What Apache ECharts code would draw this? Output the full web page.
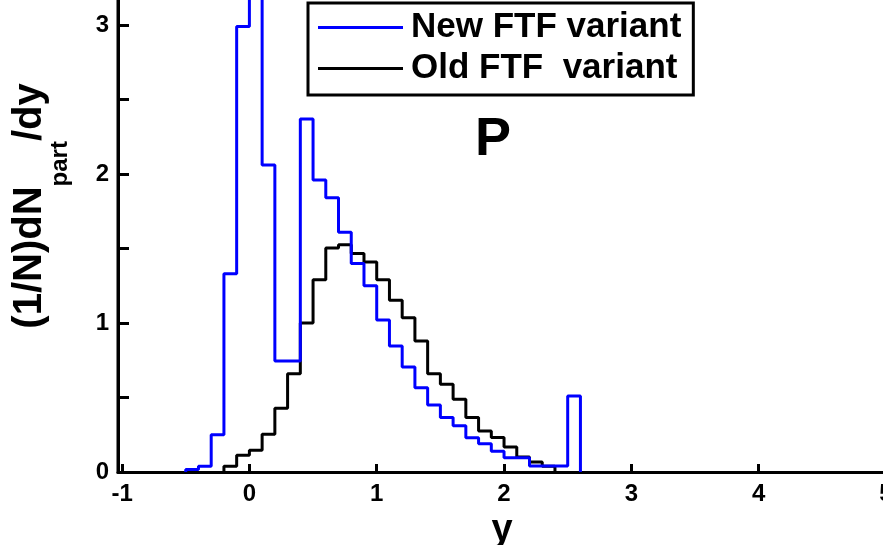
<!DOCTYPE html>
<html><head><meta charset="utf-8">
<script src="https://cdn.jsdelivr.net/npm/echarts@6/dist/echarts.min.js"></script>
<style>html,body{margin:0;padding:0;background:#fff}#c{width:883px;height:545px}</style>
</head><body><div id="c"></div>
<script>
// New FTF variant: bin edges (0.1 wide) and bin heights
const newEdges = [-0.5,-0.4,-0.3,-0.2,-0.1,0.0,0.1,0.2,0.3,0.4,0.5,0.6,0.7,0.8,0.9,1.0,1.1,1.2,1.3,1.4,1.5,1.6,1.7,1.8,1.9,2.0,2.1,2.2,2.3,2.4,2.5,2.6];
const newValues = [0.016,0.038,0.25,1.33,2.99,3.6,2.06,0.745,0.745,2.37,1.96,1.84,1.61,1.40,1.25,1.02,0.845,0.705,0.565,0.45,0.365,0.31,0.23,0.19,0.14,0.095,0.095,0.04,0.04,0.04,0.51];
// Old FTF variant
const oldEdges = [-0.2,-0.1,0.0,0.1,0.2,0.3,0.4,0.5,0.6,0.7,0.8,0.9,1.0,1.1,1.2,1.3,1.4,1.5,1.6,1.7,1.8,1.9,2.0,2.1,2.2,2.3,2.4];
const oldValues = [0.038,0.112,0.146,0.253,0.428,0.66,1.0,1.29,1.503,1.526,1.466,1.41,1.29,1.152,1.036,0.879,0.66,0.589,0.488,0.365,0.275,0.231,0.168,0.10,0.067,0.038];
const seriesNames = ['New FTF variant', 'Old FTF  variant'];
const xTickValues = [-1,0,1,2,3,4,5];
const yLabelValues = [0,1,2,3];
const yTickValues = [0,0.5,1,1.5,2,2.5,3];

const X_MIN = -1.032, X_MAX = 5, Y_MIN = 0, Y_MAX = 3.168;

function stepData(edges, values) {
  const pts = [[edges[0], 0]];
  for (let i = 0; i < values.length; i++) pts.push([edges[i], values[i]]);
  pts.push([edges[edges.length - 1], 0]);
  return pts;
}

const FONT = "'Liberation Sans', Arial, sans-serif";
const chart = echarts.init(document.getElementById('c'), null, {renderer: 'canvas'});
chart.setOption({
  animation: false,
  backgroundColor: '#fff',
  grid: {left: 118, right: -3, top: 0, bottom: 73, containLabel: false, outerBoundsMode: 'none'},
  legend: {
    orient: 'vertical', left: 308, top: 3,
    data: [{name: seriesNames[0], icon: 'rect'}, {name: seriesNames[1], icon: 'rect'}],
    itemWidth: 85, itemHeight: 3, itemGap: 6,
    padding: [7, 12, 9, 10],
    borderColor: '#000', borderWidth: 3, backgroundColor: '#fff',
    selectedMode: false,
    textStyle: {fontFamily: FONT, fontWeight: 'bold', fontSize: 35, color: '#000', lineHeight: 34, padding: [0, 0, 0, 3]}
  },
  xAxis: {
    type: 'value', min: X_MIN, max: X_MAX, position: 'bottom',
    axisLine: {onZero: false, lineStyle: {color: '#000', width: 3}},
    axisTick: {inside: true, length: 8, lineStyle: {color: '#000', width: 3}, customValues: xTickValues},
    axisLabel: {customValues: xTickValues, margin: 10, color: '#000', fontFamily: FONT, fontWeight: 'bold', fontSize: 24},
    splitLine: {show: false},
    name: 'y', nameLocation: 'middle', nameGap: 40,
    nameTextStyle: {fontFamily: FONT, fontWeight: 'bold', fontSize: 38, color: '#000'}
  },
  yAxis: {
    type: 'value', min: Y_MIN, max: Y_MAX, position: 'left',
    splitLine: {show: false},
    axisLine: {show: true, onZero: false, lineStyle: {color: '#000', width: 3}},
    axisTick: {show: true, inside: true, length: 11, lineStyle: {color: '#000', width: 3}, customValues: yTickValues},
    axisLabel: {customValues: yLabelValues, margin: 9, color: '#000', fontFamily: FONT, fontWeight: 'bold', fontSize: 24},
    name: '{m|(1/N)dN}{s|part}{m|/dy}',
    nameLocation: 'middle', nameRotate: 90, nameGap: 46,
    nameTextStyle: {
      color: '#000', padding: [0, 0, 0, 60],
      rich: {
        m: {fontFamily: FONT, fontWeight: 'bold', fontSize: 40, lineHeight: 40, verticalAlign: 'top', color: '#000'},
        s: {fontFamily: FONT, fontWeight: 'bold', fontSize: 24, lineHeight: 62, verticalAlign: 'bottom', color: '#000'}
      }
    }
  },
  series: [
    {name: seriesNames[0], type: 'line', step: 'end', showSymbol: false, symbol: 'none', clip: true,
     color: '#0000ff', lineStyle: {color: '#0000ff', width: 3}, data: stepData(newEdges, newValues), z: 3},
    {name: seriesNames[1], type: 'line', step: 'end', showSymbol: false, symbol: 'none', clip: false,
     color: '#000', lineStyle: {color: '#000', width: 3}, data: stepData(oldEdges, oldValues), z: 2,
     markLine: {
       silent: true, symbol: 'none', label: {show: false},
       lineStyle: {color: '#000', width: 3, type: 'solid'},
       data: [{xAxis: X_MIN}]
     }}
  ]
});

// Vertical axis line placed through the library's own coordinate conversion
const pBottom = chart.convertToPixel({gridIndex: 0}, [X_MIN, Y_MIN]);
const pTop = chart.convertToPixel({gridIndex: 0}, [X_MIN, Y_MAX]);
chart.setOption({
  graphic: [
    {type: 'line', z: 100, shape: {x1: pBottom[0], y1: pBottom[1] + 1.5, x2: pTop[0], y2: pTop[1]},
     style: {stroke: '#000', lineWidth: 3}},
    {type: 'text', left: 475, top: 113, z: 100,
     style: {text: 'P', fontFamily: FONT, fontWeight: 'bold', fontSize: 54, fill: '#000'}}
  ]
});
</script></body></html>
